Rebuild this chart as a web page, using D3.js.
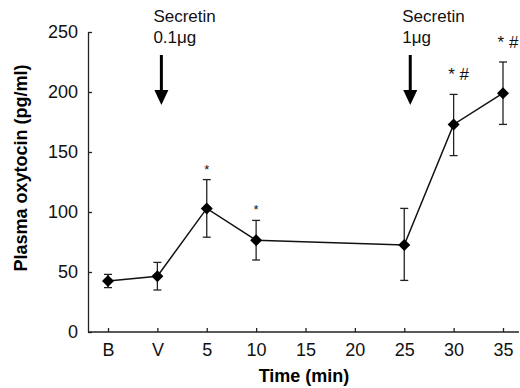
<!DOCTYPE html>
<html><head><meta charset="utf-8">
<script src="https://cdn.jsdelivr.net/npm/d3@7"></script>
<style>body{margin:0;background:#fff}svg{display:block}</style>
</head><body>
<svg id="c" width="520" height="388"></svg>
<script>
const categories = ["B","V","5","10","15","20","25","30","35"];
const pointCats = ["B","V","5","10","25","30","35"];
const means = [42.5, 46.5, 103, 76.5, 72.5, 173, 199];
const errUpper = [48, 58, 127, 93, 103, 198, 225];
const errLower = [37, 35, 79, 60, 43, 147, 173];
const markCats = ["5","10","30","35"];
const markLabels = ["*","*","* #","* #"];
const yTicks = [0,50,100,150,200,250];
const arrows = [{cat:"V", lines:["Secretin","0.1\u03bcg"]},{cat:"25", lines:["Secretin","1\u03bcg"]}];

const svg = d3.select("#c");
const font = "Liberation Sans, Arial, sans-serif";
const x = d3.scalePoint().domain(categories).range([108, 503]);
const y = d3.scaleLinear().domain([0,250]).range([332, 32]);

// axes
const gx = svg.append("g").attr("transform","translate(0,332)")
  .call(d3.axisBottom(x).tickSizeInner(-4).tickSizeOuter(0).tickPadding(11));
gx.select(".domain").attr("d","M88,0H519");
const gy = svg.append("g").attr("transform","translate(88,0)")
  .call(d3.axisLeft(y).tickValues(yTicks).tickSizeInner(-4).tickSizeOuter(0).tickPadding(10));
[gx,gy].forEach(g=>{
  g.selectAll("path,line").attr("stroke","#222").attr("stroke-width",1.3);
  g.selectAll("text").attr("font-family",font).attr("font-size",18).attr("fill","#111");
});

// labels
svg.append("text").attr("x",304).attr("y",382).attr("text-anchor","middle")
  .attr("font-family",font).attr("font-weight","bold").attr("font-size",18).text("Time (min)");
svg.append("text").attr("transform","translate(27,168) rotate(-90)").attr("text-anchor","middle")
  .attr("font-family",font).attr("font-weight","bold").attr("font-size",18).text("Plasma oxytocin (pg/ml)");

// error bars
const data = pointCats.map((c,i)=>({c, m:means[i], hi:errUpper[i], lo:errLower[i]}));
const eb = svg.append("g").attr("stroke","#222").attr("stroke-width",1.3);
data.forEach(d=>{
  const cx = x(d.c);
  eb.append("line").attr("x1",cx).attr("x2",cx).attr("y1",y(d.hi)).attr("y2",y(d.lo));
  eb.append("line").attr("x1",cx-4).attr("x2",cx+4).attr("y1",y(d.hi)).attr("y2",y(d.hi));
  eb.append("line").attr("x1",cx-4).attr("x2",cx+4).attr("y1",y(d.lo)).attr("y2",y(d.lo));
});

// line
svg.append("path").datum(data)
  .attr("d", d3.line().x(d=>x(d.c)).y(d=>y(d.m)))
  .attr("fill","none").attr("stroke","#111").attr("stroke-width",1.5);

// diamonds
svg.append("g").selectAll("path").data(data).join("path")
  .attr("transform",d=>`translate(${x(d.c)},${y(d.m)})`)
  .attr("d","M0,-6L6,0L0,6L-6,0Z").attr("fill","#000");

// significance marks
markCats.forEach((c,i)=>{
  const d = data.find(p=>p.c===c);
  const big = markLabels[i].length>1;
  svg.append("text").attr("x",x(c)+(big?5:0)).attr("y",y(d.hi)-(big?14:6)).attr("text-anchor","middle")
    .attr("font-family",font).attr("font-size", big?17:13).attr("fill","#111")
    .style("-webkit-font-smoothing","none")
    .text(markLabels[i]);
});

// arrows
arrows.forEach(a=>{
  const cx = x(a.cat)+ (a.cat==="V"?4:6);
  svg.append("line").attr("x1",cx).attr("x2",cx).attr("y1",55).attr("y2",92)
    .attr("stroke","#000").attr("stroke-width",3);
  svg.append("path").attr("d",`M${cx-7},90L${cx+7},90L${cx},105Z`).attr("fill","#000");
  a.lines.forEach((t,j)=>{
    svg.append("text").attr("x",cx-8).attr("y",22+j*21)
      .attr("font-family",font).attr("font-size",17).attr("fill","#111").text(t);
  });
});
</script>
</body></html>
